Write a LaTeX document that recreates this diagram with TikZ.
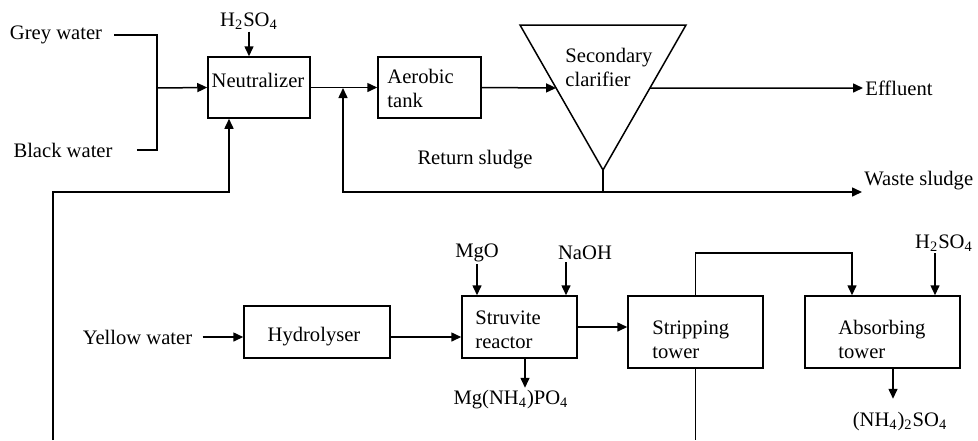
\documentclass[tikz,border=0pt]{standalone}
\usepackage{fontspec}
\setmainfont{Liberation Serif}
\usetikzlibrary{arrows.meta, positioning, calc}

\begin{document}
\begin{tikzpicture}[x=0.5pt, y=-0.5pt, font=\fontsize{10.3}{12.2}\selectfont,
  unit/.style={draw, line width=0.75pt, inner sep=0pt},
  lbl/.style={inner sep=0pt, align=left, anchor=west},
  tag/.style={inner sep=1pt},
  pipe/.style={line width=0.75pt},
  flow/.style={pipe, -{Triangle[length=5pt, width=4.5pt]}}]
\useasboundingbox (0,0) rectangle (978,440);

% Grey and black water into the neutralizer
\node[tag] (grey) at (56,35) {Grey water};
\node[tag] (black) at (63,150) {Black water};
\coordinate (mix) at (157,88);
\node[unit, minimum width=51pt, minimum height=30.5pt] (neut) at (259,87.5) {};
\node[lbl, anchor=center] (neut-lbl) at (258,80) {Neutralizer};
\node[tag] (acid1) at (249,21) {H\textsubscript{2}SO\textsubscript{4}};
\draw[pipe] ([xshift=5pt]grey.east) -| (mix);
\draw[pipe] ([xshift=11pt]black.east) -| (mix);
\draw[flow] (mix) -- (neut.west);
\draw[flow] (acid1.south) -- (acid1.south |- neut.north);

% Aerobic tank and secondary clarifier
\node[unit, minimum width=51.5pt, minimum height=30.5pt] (aero) at (429.5,87.5) {};
\node[lbl] (aero-lbl) at (387,88.5) {Aerobic\\tank};
\coordinate (ret) at (343,88);
\draw[flow] (neut.east) -- (aero.west);

\coordinate (clar-l) at (520,25);
\coordinate (clar-r) at (686,25);
\coordinate (clar-b) at (603,170);
\draw[pipe] (clar-l) -- (clar-r) -- (clar-b) -- cycle;
\node[lbl] (clar-lbl) at (565,67.5) {Secondary\\clarifier};
\coordinate (clar-in) at ($(clar-l)!0.4345!(clar-b)$);
\coordinate (clar-out) at ($(clar-r)!0.4345!(clar-b)$);
\draw[flow] (aero.east) -- (clar-in);

\node[tag, anchor=west] (effl) at (863,88) {Effluent};
\draw[flow] (clar-out) -- (effl.west);

% Return and waste sludge
\coordinate (foot) at (603,192);
\draw[pipe] (clar-b) -- (foot);
\draw[flow] (foot) -| (ret);
\node[tag, anchor=south west] (waste) at (862,192) {Waste sludge};
\draw[flow] (foot) -- (waste.south west);
\node[tag] (ret-lbl) at (475,160) {Return sludge};

% Yellow water line
\node[tag] (yellow) at (137.5,337) {Yellow water};
\node[unit, minimum width=73pt, minimum height=26pt] (hydro) at (317,332) {};
\node[lbl, anchor=center] (hydro-lbl) at (314,337) {Hydrolyser};
\draw[flow] ([xshift=4pt]yellow.east) -- (yellow.east -| hydro.west);

\node[unit, minimum width=57.5pt, minimum height=31pt] (struv) at (519.5,327) {};
\node[lbl] (struv-lbl) at (475,329.5) {Struvite\\reactor};
\draw[flow] (hydro.east |- yellow) -- (struv.west |- yellow);
\node[tag] (mgo) at (477,253) {MgO};
\node[tag] (naoh) at (585,253) {NaOH};
\coordinate (naoh-in) at ([xshift=-9.5pt]naoh.south);
\draw[flow] (mgo.south) -- (mgo.south |- struv.north);
\draw[flow] (naoh-in) -- (naoh-in |- struv.north);
\node[tag] (mgp) at (511,400) {Mg(NH\textsubscript{4})PO\textsubscript{4}};
\draw[flow] ([xshift=2.75pt]struv.south) -- +(0,29);

% Ammonia stripping and absorption
\node[unit, minimum width=67.5pt, minimum height=36pt] (strip) at (695.5,332) {};
\node[lbl] (strip-lbl) at (652,339.5) {Stripping\\tower};
\draw[flow] (struv.east) -- (struv.east -| strip.west);

\node[unit, minimum width=77.5pt, minimum height=36pt] (absb) at (882.5,332) {};
\node[lbl] (absb-lbl) at (838,339.5) {Absorbing\\tower};
\coordinate (gas) at (852,253);
\draw[flow] (strip.north) |- (gas) -- (gas |- absb.north);
\node[tag] (acid2) at (944,243) {H\textsubscript{2}SO\textsubscript{4}};
\coordinate (acid2-in) at (935,253);
\draw[flow] (acid2-in) -- (acid2-in |- absb.north);
\node[tag] (amsul) at (900,422) {(NH\textsubscript{4})\textsubscript{2}SO\textsubscript{4}};
\draw[flow] ([xshift=5.25pt]absb.south) -- +(0,30);

% Stripped liquid back to the neutralizer
\coordinate (loop-a) at (696,440);
\coordinate (loop-b) at (53,440);
\coordinate (loop-c) at (229,192);
\draw[pipe] (strip.south) -- (strip.south |- loop-a);
\draw[flow] (loop-b) |- (loop-c) -- (loop-c |- neut.south);
\end{tikzpicture}
\end{document}
